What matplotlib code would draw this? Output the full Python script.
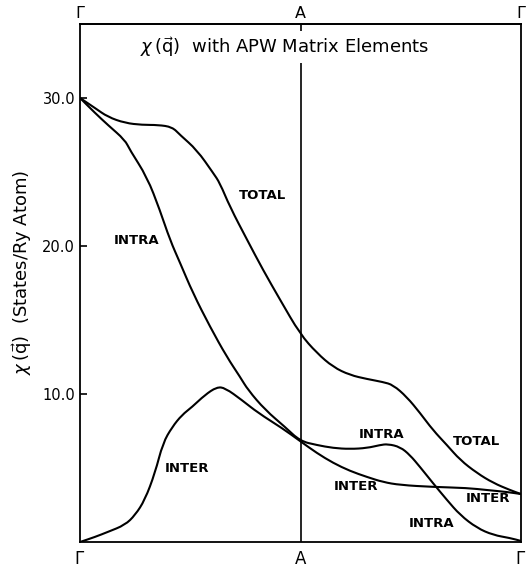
import numpy as np
import matplotlib.pyplot as plt
from matplotlib.path import Path
from matplotlib.patches import PathPatch

# Susceptibility along Gamma - A - Gamma (States/Ry Atom)
x_total = [0.0, 0.034, 0.063, 0.102, 0.141, 0.177, 0.209, 0.227, 0.265, 0.302,
           0.317, 0.340, 0.379, 0.415, 0.454, 0.499, 0.537, 0.574, 0.612,
           0.651, 0.687, 0.710, 0.741, 0.771, 0.800, 0.832, 0.862, 0.900, 0.937,
           0.975, 1.0]
chi_total = [30.0, 29.32, 28.72, 28.31, 28.18, 28.18, 28.04, 27.50, 26.49, 24.93,
             24.26, 22.64, 20.41, 18.38, 16.35, 14.05, 12.77, 11.82, 11.28,
             11.01, 10.81, 10.61, 9.80, 8.72, 7.57, 6.55, 5.54, 4.66, 3.99,
             3.51, 3.24]

x_intra = [0.0, 0.034, 0.063, 0.102, 0.113, 0.152, 0.181, 0.204, 0.227, 0.256,
           0.295, 0.333, 0.363, 0.381, 0.420, 0.465, 0.499, 0.537, 0.574,
           0.612, 0.651, 0.680, 0.698, 0.726, 0.748, 0.771, 0.800, 0.832, 0.862,
           0.900, 0.937, 0.975, 1.0]
chi_intra = [30.0, 28.99, 28.18, 27.16, 26.49, 24.66, 22.43, 20.41, 18.85, 16.82,
             14.53, 12.50, 11.15, 10.27, 8.92, 7.77, 6.82, 6.55, 6.35,
             6.28, 6.35, 6.55, 6.62, 6.42, 5.88, 5.07, 3.99, 2.84, 1.82,
             0.95, 0.47, 0.27, 0.07]

x_inter = [0.0, 0.034, 0.063, 0.102, 0.125, 0.147, 0.170, 0.188, 0.209, 0.231,
           0.254, 0.283, 0.310, 0.329, 0.367, 0.404, 0.458, 0.499, 0.537, 0.574,
           0.612, 0.651, 0.687, 0.726, 0.800, 0.878, 0.923, 0.968, 1.0]
chi_inter = [0.0, 0.34, 0.68, 1.15, 1.82, 2.84, 4.66, 6.69, 7.77, 8.58,
             9.12, 9.93, 10.47, 10.41, 9.59, 8.72, 7.70, 6.82, 6.01, 5.34,
             4.80, 4.39, 4.05, 3.85, 3.72, 3.65, 3.51, 3.38, 3.24]

sym_pos = [0.0, 0.5, 1.0]
sym_labels = [r'$\Gamma$', 'A', r'$\Gamma$']
y_ticks = [10.0, 20.0, 30.0]

# curve labels: (text, x, y)
curve_labels = [
    ('TOTAL', 0.413, 23.4),
    ('INTRA', 0.129, 20.4),
    ('INTER', 0.243, 4.94),
    ('INTRA', 0.683, 7.29),
    ('TOTAL', 0.900, 6.82),
    ('INTER', 0.626, 3.72),
    ('INTER', 0.925, 2.91),
    ('INTRA', 0.798, 1.22),
]


def smooth_path(xs, ys):
    # quadratic bezier through segment midpoints, using the points as controls
    pts = np.column_stack([xs, ys])
    mids = (pts[:-1] + pts[1:]) / 2
    verts = [pts[0], mids[0]]
    codes = [Path.MOVETO, Path.LINETO]
    for i in range(1, len(pts) - 1):
        verts += [pts[i], mids[i]]
        codes += [Path.CURVE3, Path.CURVE3]
    verts.append(pts[-1])
    codes.append(Path.LINETO)
    return Path(verts, codes)


fig = plt.figure(figsize=(5.31, 5.67), dpi=100)
ax = fig.add_axes([0.1507, 0.0441, 0.8305, 0.9136])

for xs, ys in [(x_total, chi_total), (x_intra, chi_intra), (x_inter, chi_inter)]:
    ax.add_patch(PathPatch(smooth_path(xs, ys), facecolor='none',
                           edgecolor='black', lw=1.5, capstyle='round'))
ax.axvline(0.5, color='black', lw=1.2, zorder=1)

for txt, xx, yy in curve_labels:
    ax.text(xx, yy, txt, ha='center', va='center', fontsize=9.5, fontweight='bold')

ax.text(0.464, 33.45, r'$\chi\,(\vec{\mathrm{q}})$  with APW Matrix Elements',
        ha='center', va='center', fontsize=13,
        bbox=dict(facecolor='white', edgecolor='none', pad=3), zorder=3)

ax.set_xlim(0, 1)
ax.set_ylim(0, 35)
ax.set_yticks(y_ticks)
ax.set_yticklabels(['%.1f' % v for v in y_ticks], fontsize=10.5)
ax.tick_params(axis='y', direction='in', length=5, width=1.2)

ax.set_xticks(sym_pos)
ax.set_xticklabels(sym_labels, fontsize=12)
ax.tick_params(axis='x', length=0, pad=6)

top = ax.secondary_xaxis('top')
top.set_xticks(sym_pos)
top.set_xticklabels(sym_labels, fontsize=11.5)
top.tick_params(axis='x', length=0, pad=2)

for s in list(ax.spines.values()) + list(top.spines.values()):
    s.set_linewidth(1.3)

fig.text(0.041, 0.52, r'$\chi\,(\vec{\mathrm{q}})$  (States/Ry Atom)',
         rotation=90, ha='center', va='center', fontsize=13)

fig.savefig('out.png', dpi=100)
